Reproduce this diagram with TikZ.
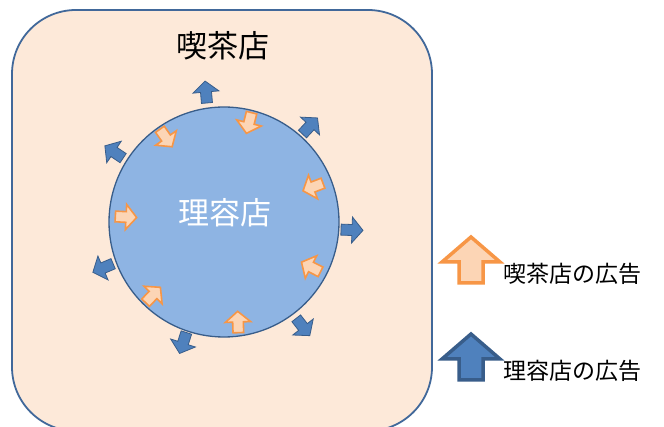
\documentclass[tikz,border=0pt]{standalone}
\usepackage{fontspec}
\newfontfamily\cjk{Noto Sans CJK JP}
\definecolor{shopfill}{HTML}{FDE9D9}
\definecolor{shopline}{HTML}{41689A}
\definecolor{barberfill}{HTML}{8EB4E3}
\definecolor{barberline}{HTML}{385D8A}
\definecolor{bluefill}{HTML}{4F81BD}
\definecolor{orangefill}{HTML}{FCD5B5}
\definecolor{orangeline}{HTML}{F79646}
\tikzset{
  smallarrow/.pic={
    \path[pic actions] (-11,-5.5) -- (0,-5.5) -- (0,-13) -- (11,0) -- (0,13) -- (0,5.5) -- (-11,5.5) -- cycle;
  },
  bluearr/.style={fill=bluefill, draw=barberline, line width=0.8pt, line join=miter},
  orangearr/.style={fill=orangefill, draw=orangeline, line width=1.6pt, line join=miter},
  bigarrow/.pic={
    \path[pic actions] (-12,24) -- (-12,3) -- (-29,3) -- (0,-22) -- (29,3) -- (12,3) -- (12,24) -- cycle;
  },
}
\begin{document}
\begin{tikzpicture}[x=1pt,y=-1pt]
\clip (0,0) rectangle (664,427);
\fill[white] (0,0) rectangle (664,427);
% cafe
\draw[fill=shopfill, draw=shopline, line width=1.8pt, rounded corners=64pt] (12,10) rectangle (432,431);
\node (cafe) at (223,46) {\cjk\fontsize{31}{36}\selectfont 喫茶店};
% barber
\node[circle, fill=barberfill, draw=barberline, line width=1.3pt, minimum size=230pt, inner sep=0pt] (barber) at (224,222) {};
\node[text=white] (barbertext) at (225,213) {\cjk\fontsize{31}{36}\selectfont 理容店};
% outward blue arrows
\foreach \x/\y/\a in {206/92/95, 310/126/47, 352/230/-2, 303/327/-52, 183/343/-108, 103/268/-157, 114/152/146}
  \pic[bluearr, rotate=\a] at (\x,\y) {smallarrow};
% inward orange arrows
\foreach \x/\y/\a in {166/138/-55, 249/123/-104, 313/187/-159, 311/267/153, 238/322/92, 153/295/46, 126/217/-3}
  \pic[orangearr, rotate=\a, scale=0.97] at (\x,\y) {smallarrow};
% legend
\pic[fill=orangefill, draw=orangeline, line width=3.5pt] at (471,259) {bigarrow};
\node[anchor=west, inner sep=0pt] (legcafe) at (503,274) {\cjk\fontsize{23}{27}\selectfont 喫茶店の広告};
\pic[fill=bluefill, draw=barberline, line width=3.5pt] at (471,356) {bigarrow};
\node[anchor=west, inner sep=0pt] (legbarber) at (503,371) {\cjk\fontsize{23}{27}\selectfont 理容店の広告};
\end{tikzpicture}
\end{document}
